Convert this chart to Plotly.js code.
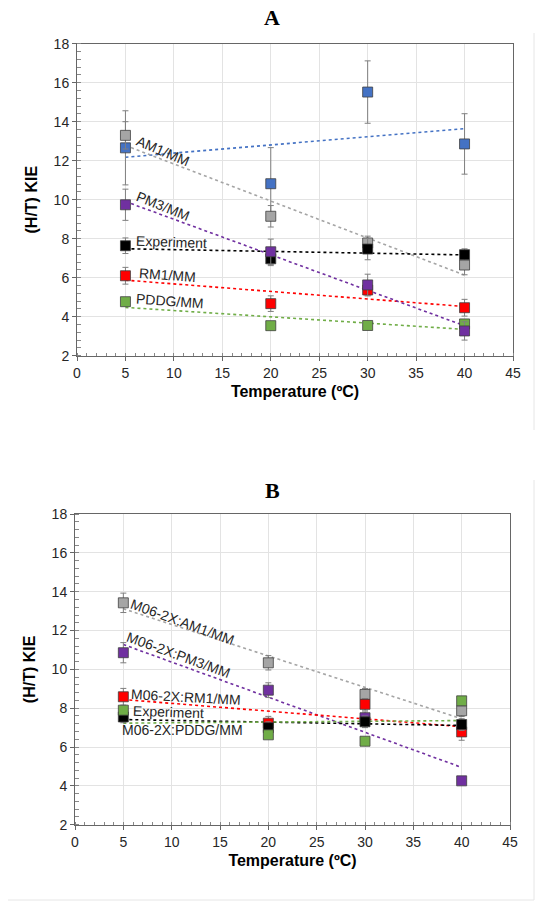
<!DOCTYPE html>
<html>
<head>
<meta charset="utf-8">
<script src="https://cdn.plot.ly/plotly-3.0.1.min.js"></script>
<style>
html,body{margin:0;padding:0;background:#fff;}
#chart{width:544px;height:906px;}
</style>
</head>
<body>
<div id="chart"></div>
<script>
// ---------- DATA ----------
var temps = [5, 20, 30, 40];

// Panel A
var A_AM1_blue = [12.66, 10.82, 15.52, 12.86];
var A_AM1_blue_err = [1.9, 1.85, 1.6, 1.55];
var A_AM1 = [13.3, 9.15, 7.78, 6.65];
var A_AM1_err = [0.7, 0.55, 0.35, 0.5];
var A_Exp = [7.64, 6.97, 7.47, 7.18];
var A_Exp_err = [0.4, 0.35, 0.55, 0.3];
var A_RM1 = [6.1, 4.67, 5.37, 4.46];
var A_RM1_err = [0.43, 0.4, 0.3, 0.43];
var A_PDDG = [4.77, 3.54, 3.55, 3.63];
var A_PDDG_err = [0.1, 0.1, 0.1, 0.1];
var A_PM3 = [9.74, 7.33, 5.63, 3.27];
var A_PM3_err = [0.8, 0.65, 0.55, 0.47];

// Panel B
var B_AM1 = [13.43, 10.34, 8.71, 7.87];
var B_AM1_err = [0.5, 0.37, 0.3, 0.3];
var B_PM3 = [10.86, 8.93, 7.51, 4.26];
var B_PM3_err = [0.52, 0.38, 0.3, 0.2];
var B_RM1 = [8.59, 7.23, 8.2, 6.78];
var B_RM1_err = [0.43, 0.35, 0.3, 0.43];
var B_Exp = [7.55, 7.0, 7.3, 7.16];
var B_Exp_err = [0.3, 0.3, 0.3, 0.3];
var B_PDDG = [7.9, 6.63, 6.3, 8.38];
var B_PDDG_err = [0.1, 0.1, 0.1, 0.1];

var xTickVals = [0, 5, 10, 15, 20, 25, 30, 35, 40, 45];
var yTickVals = [2, 4, 6, 8, 10, 12, 14, 16, 18];

// Labels
var A_labels = ["AM1/MM", "PM3/MM", "Experiment", "RM1/MM", "PDDG/MM"];
var B_labels = ["M06-2X:AM1/MM", "M06-2X:PM3/MM", "M06-2X:RM1/MM", "Experiment", "M06-2X:PDDG/MM"];

// ---------- STYLE ----------
var C = {blue:"#4472C4", grey:"#A5A5A5", black:"#000000", red:"#FF0000", green:"#70AD47", purple:"#7030A0"};

function fit(x, y) {
  var n = x.length, mx = 0, my = 0;
  for (var i = 0; i < n; i++) { mx += x[i]; my += y[i]; }
  mx /= n; my /= n;
  var sxy = 0, sxx = 0;
  for (var j = 0; j < n; j++) { sxy += (x[j]-mx)*(y[j]-my); sxx += (x[j]-mx)*(x[j]-mx); }
  var b = sxy / sxx, a = my - b*mx;
  var x0 = x[0], x1 = x[n-1];
  return {x: [x0, x1], y: [a + b*x0, a + b*x1]};
}

function trend(y, color, xa, ya) {
  var f = fit(temps, y);
  return {x: f.x, y: f.y, xaxis: xa, yaxis: ya, mode: "lines", type: "scatter",
    line: {color: color, dash: "dot", width: 1.6}, hoverinfo: "skip", showlegend: false};
}
function pts(y, err, color, name, xa, ya) {
  return {x: temps, y: y, xaxis: xa, yaxis: ya, mode: "markers", type: "scatter", name: name,
    marker: {symbol: "square", size: 10, color: color, line: {color: "#404040", width: 0.8}},
    error_y: {type: "data", array: err, visible: true, color: "#7f7f7f", thickness: 1, width: 3},
    showlegend: false};
}

var data = [
  // Panel A trendlines
  trend(A_AM1_blue, C.blue, "x", "y"),
  trend(A_AM1, C.grey, "x", "y"),
  trend(A_Exp, C.black, "x", "y"),
  trend(A_RM1, C.red, "x", "y"),
  trend(A_PDDG, C.green, "x", "y"),
  trend(A_PM3, C.purple, "x", "y"),
  // Panel A points
  pts(A_AM1_blue, A_AM1_blue_err, C.blue, "AM1/MM (blue)", "x", "y"),
  pts(A_AM1, A_AM1_err, C.grey, "AM1/MM", "x", "y"),
  pts(A_Exp, A_Exp_err, C.black, "Experiment", "x", "y"),
  pts(A_RM1, A_RM1_err, C.red, "RM1/MM", "x", "y"),
  pts(A_PDDG, A_PDDG_err, C.green, "PDDG/MM", "x", "y"),
  pts(A_PM3, A_PM3_err, C.purple, "PM3/MM", "x", "y"),
  // Panel B trendlines
  trend(B_AM1, C.grey, "x2", "y2"),
  trend(B_PM3, C.purple, "x2", "y2"),
  trend(B_RM1, C.red, "x2", "y2"),
  trend(B_Exp, C.black, "x2", "y2"),
  trend(B_PDDG, C.green, "x2", "y2"),
  // Panel B points
  pts(B_AM1, B_AM1_err, C.grey, "M06-2X:AM1/MM", "x2", "y2"),
  pts(B_PM3, B_PM3_err, C.purple, "M06-2X:PM3/MM", "x2", "y2"),
  pts(B_RM1, B_RM1_err, C.red, "M06-2X:RM1/MM", "x2", "y2"),
  pts(B_Exp, B_Exp_err, C.black, "Experiment", "x2", "y2"),
  pts(B_PDDG, B_PDDG_err, C.green, "M06-2X:PDDG/MM", "x2", "y2")
];

var W = 544, H = 906;
function px(x) { return x / W; }
function py(y) { return 1 - y / H; }

var tickFont = {family: "Liberation Sans, Arial, sans-serif", size: 14, color: "#262626"};
var xTitleFont = {family: "Liberation Sans, Arial, sans-serif", size: 16, color: "#000000", weight: "bold"};
var yTitleFont = {family: "Liberation Sans, Arial, sans-serif", size: 16, color: "#000000", weight: "bold"};

function xAxis(domain, anchor) {
  return {domain: domain, anchor: anchor, range: [0, 45], tickvals: xTickVals, ticktext: xTickVals.map(String),
    showline: true, mirror: true, linecolor: "#666666", linewidth: 1,
    showgrid: true, gridcolor: "#e3e3e3", gridwidth: 1, zeroline: false,
    ticks: "outside", ticklen: 4, tickcolor: "#666666", tickfont: tickFont,
    minor: {dtick: 1, ticks: "inside", ticklen: 3, tickcolor: "#888888", showgrid: false},
    title: {text: "Temperature (ºC)", font: xTitleFont, standoff: 6}, automargin: false, fixedrange: true};
}
function yAxis(domain, anchor) {
  return {domain: domain, anchor: anchor, range: [2, 18], tickvals: yTickVals, ticktext: yTickVals.map(String),
    showline: true, mirror: true, linecolor: "#666666", linewidth: 1,
    showgrid: true, gridcolor: "#e3e3e3", gridwidth: 1, zeroline: false,
    ticks: "outside", ticklen: 4, tickcolor: "#666666", tickfont: tickFont,
    minor: {dtick: 0.4, ticks: "inside", ticklen: 4, tickcolor: "#888888", showgrid: false},
    title: {text: "(H/T) KIE", font: yTitleFont, standoff: 12}, automargin: false, fixedrange: true};
}

var labFont = {family: "Liberation Sans, Arial, sans-serif", size: 14, color: "#262626"};
function lab(text, x, y, angle, xr, yr) {
  return {text: text, x: x, y: y, xref: xr, yref: yr, showarrow: false, textangle: angle,
    font: labFont, xanchor: "center", yanchor: "middle"};
}

var annotations = [
  {text: "<b>A</b>", x: 0.5, y: py(18), xref: "paper", yref: "paper", showarrow: false,
   font: {family: "Liberation Serif, Times New Roman, serif", size: 22, color: "#000"}, xanchor: "center", yanchor: "middle"},
  {text: "<b>B</b>", x: 0.5, y: py(490), xref: "paper", yref: "paper", showarrow: false,
   font: {family: "Liberation Serif, Times New Roman, serif", size: 22, color: "#000"}, xanchor: "center", yanchor: "middle"},
  lab(A_labels[0], 8.87, 12.5, 23, "x", "y"),
  lab(A_labels[1], 8.87, 9.68, 22, "x", "y"),
  lab(A_labels[2], 9.8, 7.83, 2, "x", "y"),
  lab(A_labels[3], 9.29, 6.14, 4, "x", "y"),
  lab(A_labels[4], 9.6, 4.8, 4, "x", "y"),
  lab(B_labels[0], 11.17, 12.44, 20, "x2", "y2"),
  lab(B_labels[1], 10.75, 10.74, 20, "x2", "y2"),
  lab(B_labels[2], 11.48, 8.57, 3, "x2", "y2"),
  lab(B_labels[3], 9.72, 7.8, 2, "x2", "y2"),
  lab(B_labels[4], 11.17, 6.87, 0, "x2", "y2")
];

var shapes = [
  {type: "line", xref: "paper", yref: "paper", x0: px(534), x1: px(534), y0: py(33), y1: py(430), line: {color: "#e6e6e6", width: 1}},
  {type: "line", xref: "paper", yref: "paper", x0: px(534), x1: px(534), y0: py(480), y1: py(900), line: {color: "#e6e6e6", width: 1}},
  {type: "line", xref: "paper", yref: "paper", x0: px(8), x1: px(534), y0: py(900), y1: py(900), line: {color: "#e6e6e6", width: 1}}
];

var layout = {
  width: W, height: H,
  margin: {l: 0, r: 0, t: 0, b: 0},
  paper_bgcolor: "#ffffff", plot_bgcolor: "#ffffff",
  showlegend: false,
  xaxis: xAxis([px(77), px(513)], "y"),
  yaxis: yAxis([py(355.7), py(43.7)], "x"),
  xaxis2: xAxis([px(75), px(510)], "y2"),
  yaxis2: yAxis([py(824.7), py(514.1)], "x2"),
  annotations: annotations,
  shapes: shapes
};

Plotly.newPlot("chart", data, layout, {staticPlot: true, displayModeBar: false});
</script>
</body>
</html>
